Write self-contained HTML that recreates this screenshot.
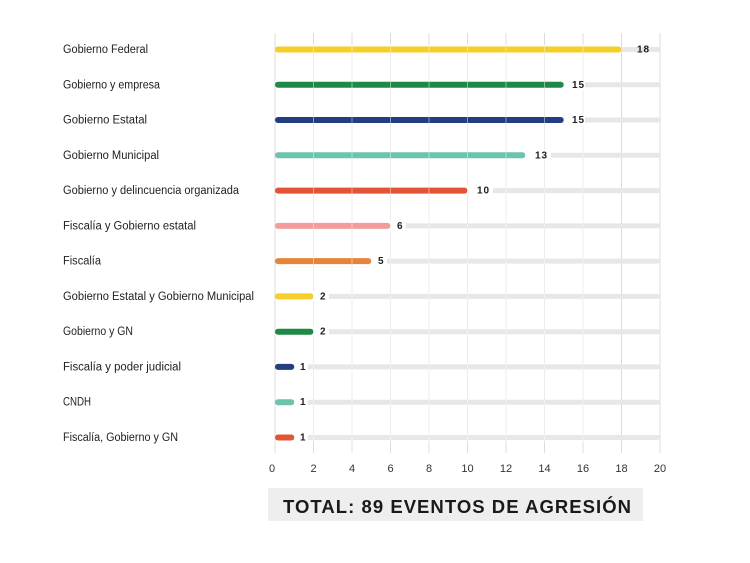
<!DOCTYPE html>
<html><head><meta charset="utf-8"><style>
html,body{margin:0;padding:0;background:#fff;}
svg{display:block;}
text{font-family:"Liberation Sans",sans-serif;}
</style></head><body>
<svg width="750" height="563" viewBox="0 0 750 563" xmlns="http://www.w3.org/2000/svg">
<rect width="750" height="563" fill="#fff"/>
<!-- grid -->
<g stroke="#dcdcdc" stroke-width="1">
<line x1="275" y1="33" x2="275" y2="453"/>
<line x1="313.5" y1="33" x2="313.5" y2="453"/>
<line x1="352" y1="33" x2="352" y2="453"/>
<line x1="390.5" y1="33" x2="390.5" y2="453"/>
<line x1="429" y1="33" x2="429" y2="453"/>
<line x1="467.5" y1="33" x2="467.5" y2="453"/>
<line x1="506" y1="33" x2="506" y2="453"/>
<line x1="544.5" y1="33" x2="544.5" y2="453"/>
<line x1="583" y1="33" x2="583" y2="453"/>
<line x1="621.5" y1="33" x2="621.5" y2="453"/>
<line x1="660" y1="33" x2="660" y2="453"/>
</g>
<!-- tracks -->
<g fill="#e7e7e9">
<rect x="275" y="47" width="385" height="5" rx="2.5"/>
<rect x="275" y="82.3" width="385" height="5" rx="2.5"/>
<rect x="275" y="117.5" width="385" height="5" rx="2.5"/>
<rect x="275" y="152.8" width="385" height="5" rx="2.5"/>
<rect x="275" y="188.1" width="385" height="5" rx="2.5"/>
<rect x="275" y="223.4" width="385" height="5" rx="2.5"/>
<rect x="275" y="258.6" width="385" height="5" rx="2.5"/>
<rect x="275" y="293.9" width="385" height="5" rx="2.5"/>
<rect x="275" y="329.2" width="385" height="5" rx="2.5"/>
<rect x="275" y="364.4" width="385" height="5" rx="2.5"/>
<rect x="275" y="399.7" width="385" height="5" rx="2.5"/>
<rect x="275" y="435" width="385" height="5" rx="2.5"/>
</g>
<!-- white gaps behind labels -->
<g fill="#fff">
<rect x="563" y="80" width="22" height="10"/>
<rect x="563" y="115" width="22" height="10"/>
<rect x="525" y="150" width="26" height="10"/>
<rect x="467" y="185" width="26" height="10"/>
<rect x="390" y="221" width="16" height="10"/>
<rect x="371" y="256" width="16" height="10"/>
<rect x="313" y="291" width="16" height="10"/>
<rect x="313" y="326" width="16" height="10"/>
<rect x="294" y="362" width="14" height="10"/>
<rect x="294" y="397" width="14" height="10"/>
<rect x="294" y="432" width="14" height="10"/>
</g>
<!-- bars -->
<rect x="275" y="46.5" width="346.5" height="6" rx="3" fill="#F5CE2A"/>
<rect x="275" y="81.8" width="288.75" height="6" rx="3" fill="#1E8A46"/>
<rect x="275" y="117" width="288.75" height="6" rx="3" fill="#233D80"/>
<rect x="275" y="152.3" width="250.25" height="6" rx="3" fill="#6CC3AE"/>
<rect x="275" y="187.6" width="192.5" height="6" rx="3" fill="#E35336"/>
<rect x="275" y="222.9" width="115.5" height="6" rx="3" fill="#F29C9C"/>
<rect x="275" y="258.1" width="96.25" height="6" rx="3" fill="#E5843A"/>
<rect x="275" y="293.4" width="38.5" height="6" rx="3" fill="#F5CE2A"/>
<rect x="275" y="328.7" width="38.5" height="6" rx="3" fill="#1E8A46"/>
<rect x="275" y="363.9" width="19.25" height="6" rx="3" fill="#233D80"/>
<rect x="275" y="399.2" width="19.25" height="6" rx="3" fill="#6CC3AE"/>
<rect x="275" y="434.5" width="19.25" height="6" rx="3" fill="#E35336"/>
<!-- grid overlay on bars -->
<g stroke="#ffffff" stroke-opacity="0.45" stroke-width="1">
<line x1="313.5" y1="44" x2="313.5" y2="442"/>
<line x1="352" y1="44" x2="352" y2="442"/>
<line x1="390.5" y1="44" x2="390.5" y2="442"/>
<line x1="429" y1="44" x2="429" y2="442"/>
<line x1="467.5" y1="44" x2="467.5" y2="442"/>
<line x1="506" y1="44" x2="506" y2="442"/>
<line x1="544.5" y1="44" x2="544.5" y2="442"/>
<line x1="583" y1="44" x2="583" y2="442"/>
</g>
<!-- value labels -->
<g font-size="10" font-weight="bold" fill="#1e1e1e" letter-spacing="1">
<text x="637" y="52.5">18</text>
<text x="572" y="87.8">15</text>
<text x="572" y="123">15</text>
<text x="535" y="158.3">13</text>
<text x="477" y="193.6">10</text>
<text x="397" y="228.9">6</text>
<text x="378" y="264.1">5</text>
<text x="320" y="299.4">2</text>
<text x="320" y="334.7">2</text>
<text x="300" y="369.9">1</text>
<text x="300" y="405.2">1</text>
<text x="300" y="440.5">1</text>
</g>
<!-- category labels -->
<g font-size="11.5" fill="#222">
<text x="63" y="53" textLength="85" lengthAdjust="spacingAndGlyphs">Gobierno Federal</text>
<text x="63" y="88.3" textLength="97" lengthAdjust="spacingAndGlyphs">Gobierno y empresa</text>
<text x="63" y="123.5" textLength="84" lengthAdjust="spacingAndGlyphs">Gobierno Estatal</text>
<text x="63" y="158.8" textLength="96" lengthAdjust="spacingAndGlyphs">Gobierno Municipal</text>
<text x="63" y="194.1" textLength="176" lengthAdjust="spacingAndGlyphs">Gobierno y delincuencia organizada</text>
<text x="63" y="229.4" textLength="133" lengthAdjust="spacingAndGlyphs">Fiscalía y Gobierno estatal</text>
<text x="63" y="264.6" textLength="38" lengthAdjust="spacingAndGlyphs">Fiscalía</text>
<text x="63" y="299.9" textLength="191" lengthAdjust="spacingAndGlyphs">Gobierno Estatal y Gobierno Municipal</text>
<text x="63" y="335.2" textLength="70" lengthAdjust="spacingAndGlyphs">Gobierno y GN</text>
<text x="63" y="370.4" textLength="118" lengthAdjust="spacingAndGlyphs">Fiscalía y poder judicial</text>
<text x="63" y="405.7" textLength="28" lengthAdjust="spacingAndGlyphs">CNDH</text>
<text x="63" y="441" textLength="115" lengthAdjust="spacingAndGlyphs">Fiscalía, Gobierno y GN</text>
</g>
<!-- axis ticks -->
<g font-size="11" fill="#333" text-anchor="middle">
<text x="272" y="472">0</text>
<text x="313.5" y="472">2</text>
<text x="352" y="472">4</text>
<text x="390.5" y="472">6</text>
<text x="429" y="472">8</text>
<text x="467.5" y="472">10</text>
<text x="506" y="472">12</text>
<text x="544.5" y="472">14</text>
<text x="583" y="472">16</text>
<text x="621.5" y="472">18</text>
<text x="660" y="472">20</text>
</g>
<!-- total box -->
<rect x="268" y="488" width="375" height="33" fill="#eeeeee"/>
<text x="283" y="513" font-size="18.5" font-weight="bold" fill="#1a1a1a" textLength="348" lengthAdjust="spacing">TOTAL: 89 EVENTOS DE AGRESIÓN</text>
</svg>
</body></html>
